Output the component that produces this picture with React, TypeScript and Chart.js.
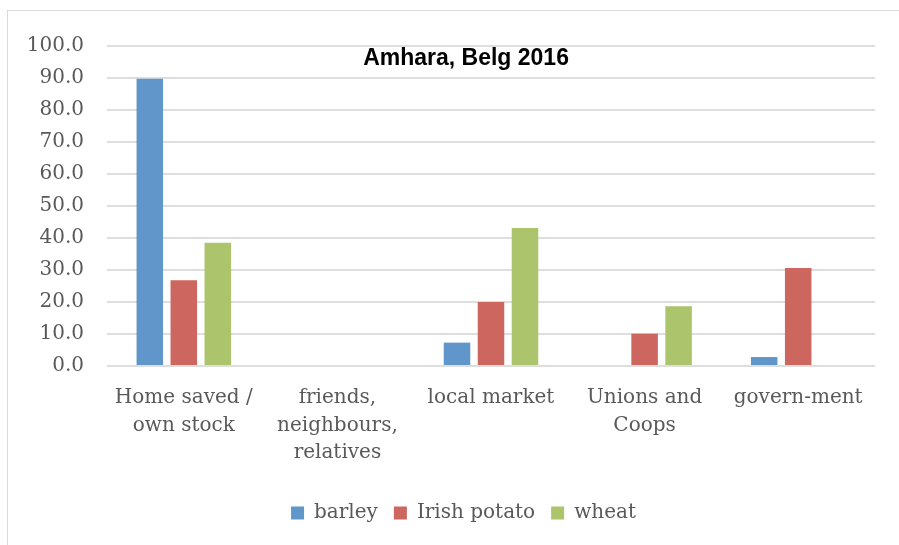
import React, { useEffect, useRef } from "react";
import { Chart, registerables } from "chart.js";

Chart.register(...registerables);

const categories: (string | string[])[] = [
  ["Home saved /", "own stock"],
  ["friends,", "neighbours,", "relatives"],
  "local market",
  ["Unions and", "Coops"],
  "govern-ment",
];
const barley = [89.8, 0, 7.3, 0, 2.8];
const irishPotato = [26.8, 0, 20.0, 10.1, 30.6];
const wheat = [38.5, 0, 43.1, 18.7, 0];
const titleText = "Amhara, Belg 2016";

const TEXT = "#595959";
const SERIF = "'DejaVu Serif', serif";

export default function App() {
  const ref = useRef<HTMLCanvasElement | null>(null);
  useEffect(() => {
    if (!ref.current) return;
    const titlePlugin = {
      id: "innerTitle",
      afterLayout(chart: any) {
        const lg = chart.legend;
        if (lg) {
          lg.left += 22;
          lg.right += 22;
        }
      },
      afterDraw(chart: any) {
        const { ctx, chartArea } = chart;
        ctx.save();
        ctx.font = "bold 23px 'Liberation Sans', Arial, sans-serif";
        ctx.fillStyle = "#000000";
        ctx.textAlign = "center";
        ctx.textBaseline = "middle";
        const x = chartArea.left + (chartArea.right - chartArea.left) * 0.4675;
        ctx.fillText(titleText, x, chartArea.top + 13);
        ctx.restore();
      },
    };
    const chart = new Chart(ref.current, {
      type: "bar",
      data: {
        labels: categories,
        datasets: [
          { label: "barley", data: barley, backgroundColor: "#6096C9" },
          { label: "Irish potato", data: irishPotato, backgroundColor: "#CD665F" },
          { label: "wheat", data: wheat, backgroundColor: "#ACC46B" },
        ],
      },
      options: {
        animation: false,
        responsive: false,
        maintainAspectRatio: false,
        datasets: {
          bar: { categoryPercentage: 0.664, barPercentage: 0.78 },
        },
        layout: { padding: { left: 0, right: 24, top: 34, bottom: 12 } },
        plugins: {
          title: { display: false },
          tooltip: { enabled: false },
          legend: {
            position: "bottom",
            labels: {
              color: TEXT,
              font: { family: SERIF, size: 20 },
              boxWidth: 13,
              boxHeight: 13,
              padding: 16,
            },
          },
        },
        scales: {
          x: {
            grid: { display: false },
            border: { display: false },
            ticks: {
              color: TEXT,
              font: { family: SERIF, size: 20, lineHeight: 1.38 },
              maxRotation: 0,
              autoSkip: false,
              padding: 10,
            },
            afterFit(scale: any) {
              scale.height = 121;
            },
          },
          y: {
            min: 0,
            max: 100,
            border: { display: false },
            grid: { color: "#dedede", lineWidth: 2, drawTicks: false },
            ticks: {
              stepSize: 10,
              color: TEXT,
              font: { family: SERIF, size: 20 },
              padding: 23,
              callback: (v: any) => Number(v).toFixed(1),
            },
            afterFit(scale: any) {
              scale.width = 99;
            },
          },
        },
      },
      plugins: [titlePlugin],
    });
    return () => chart.destroy();
  }, []);
  return (
    <div
      style={{
        position: "fixed",
        left: 7,
        top: 10,
        width: 900,
        height: 540,
        borderTop: "1px solid #d9d9d9",
        borderLeft: "1px solid #d9d9d9",
        background: "#fff",
      }}
    >
      <canvas ref={ref} width={891} height={534} style={{ display: "block" }} />
    </div>
  );
}
